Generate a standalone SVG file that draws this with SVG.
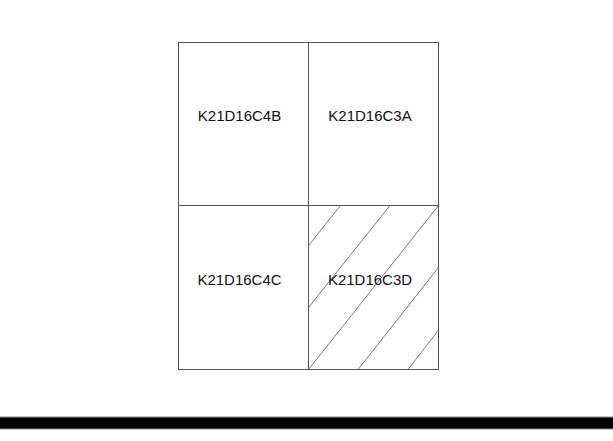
<svg xmlns="http://www.w3.org/2000/svg" width="613" height="441" viewBox="0 0 613 441">
<style>
.cell{fill:#fff;stroke:#555;stroke-width:1}
.lbl{font-family:"Liberation Sans",Arial,sans-serif;font-size:15px;fill:#111;text-anchor:middle}
.hatch{stroke:#555;stroke-width:0.8;fill:none}
</style>
<rect width="613" height="441" fill="#fff"/>
<g id="K21D16C4B"><rect class="cell" x="178.5" y="42.5" width="130" height="163"/><text class="lbl" x="239.5" y="121">K21D16C4B</text></g>
<g id="K21D16C3A"><rect class="cell" x="308.5" y="42.5" width="130" height="163"/><text class="lbl" x="370" y="121">K21D16C3A</text></g>
<g id="K21D16C4C"><rect class="cell" x="178.5" y="205.5" width="130" height="164"/><text class="lbl" x="239.5" y="285">K21D16C4C</text></g>
<g id="K21D16C3D"><rect class="cell" x="308.5" y="205.5" width="130" height="164"/>
<g id="hatching" class="hatch">
<line x1="308.5" y1="245.6" x2="340.5" y2="205.5"/>
<line x1="308.5" y1="307.5" x2="390" y2="205.5"/>
<line x1="308.5" y1="369.5" x2="438.5" y2="205.5"/>
<line x1="358" y1="369.5" x2="438.5" y2="267.5"/>
<line x1="408" y1="369.5" x2="438.5" y2="330"/>
</g>
<text class="lbl" x="370" y="285">K21D16C3D</text></g>
<g id="connectors"></g>
<rect x="0" y="417" width="613" height="12" fill="#000"/>
<line x1="0" y1="417" x2="613" y2="417" stroke="#888" stroke-width="1"/>
<line x1="0" y1="429" x2="613" y2="429" stroke="#888" stroke-width="1"/>
</svg>
